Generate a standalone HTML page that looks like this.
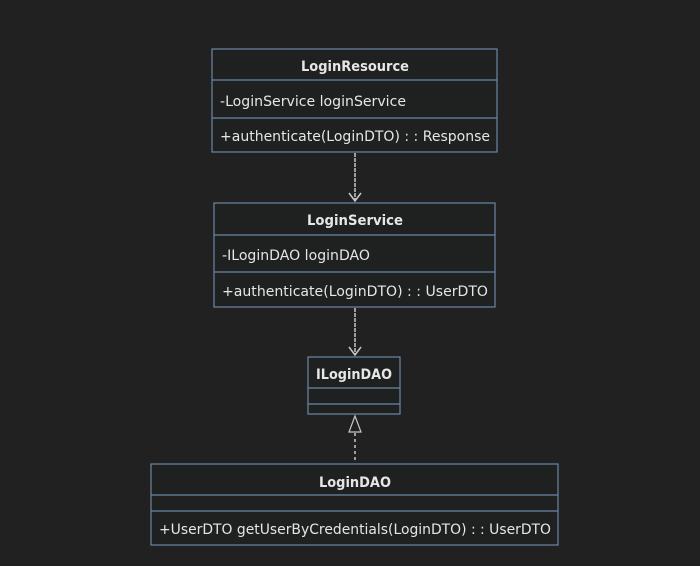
<!DOCTYPE html>
<html><head><style>html,body{margin:0;padding:0;background:#212121;}svg{display:block}</style></head>
<body>
<svg width="700" height="566" xmlns="http://www.w3.org/2000/svg" font-family="DejaVu Sans, Liberation Sans, sans-serif" font-size="14" fill="#e6e6e6">
<rect width="700" height="566" fill="#212121"/>
<g stroke="#6a88a6" stroke-width="1.2" fill="#1f2020">
<rect x="212" y="49" width="285" height="103"/>
<line x1="212" y1="80" x2="497" y2="80"/><line x1="212" y1="118" x2="497" y2="118"/>
<rect x="214" y="203" width="281" height="104"/>
<line x1="214" y1="235" x2="495" y2="235"/><line x1="214" y1="272" x2="495" y2="272"/>
<rect x="308" y="357" width="92" height="57"/>
<line x1="308" y1="388" x2="400" y2="388"/><line x1="308" y1="404" x2="400" y2="404"/>
<rect x="151" y="464" width="407" height="81"/>
<line x1="151" y1="495" x2="558" y2="495"/><line x1="151" y1="511" x2="558" y2="511"/>
</g>
<g stroke="#c8c8c8" stroke-width="1.5" fill="none">
<line x1="355" y1="153" x2="355" y2="200" stroke-dasharray="4,1"/>
<polyline points="349,193 355,201 361,193"/>
<line x1="355" y1="308" x2="355" y2="354" stroke-dasharray="4,1"/>
<polyline points="349,347 355,355 361,347"/>
<line x1="355" y1="433" x2="355" y2="463" stroke-dasharray="3,3"/>
<polygon points="355,416 349,432 361,432" fill="#212121" stroke-width="1.2"/>
</g>
<g font-weight="bold" text-anchor="middle" lengthAdjust="spacingAndGlyphs">
<text x="355" y="71" textLength="108" lengthAdjust="spacingAndGlyphs">LoginResource</text>
<text x="355" y="225" textLength="96" lengthAdjust="spacingAndGlyphs">LoginService</text>
<text x="354" y="379" textLength="76" lengthAdjust="spacingAndGlyphs">ILoginDAO</text>
<text x="355" y="487" textLength="72" lengthAdjust="spacingAndGlyphs">LoginDAO</text>
</g>
<text x="220" y="106" textLength="186" lengthAdjust="spacingAndGlyphs">-LoginService loginService</text>
<text x="220" y="141" textLength="270" lengthAdjust="spacingAndGlyphs">+authenticate(LoginDTO) : : Response</text>
<text x="222" y="260" textLength="148" lengthAdjust="spacingAndGlyphs">-ILoginDAO loginDAO</text>
<text x="222" y="296" textLength="266" lengthAdjust="spacingAndGlyphs">+authenticate(LoginDTO) : : UserDTO</text>
<text x="159" y="534" textLength="392" lengthAdjust="spacingAndGlyphs">+UserDTO getUserByCredentials(LoginDTO) : : UserDTO</text>
</svg>
</body></html>
